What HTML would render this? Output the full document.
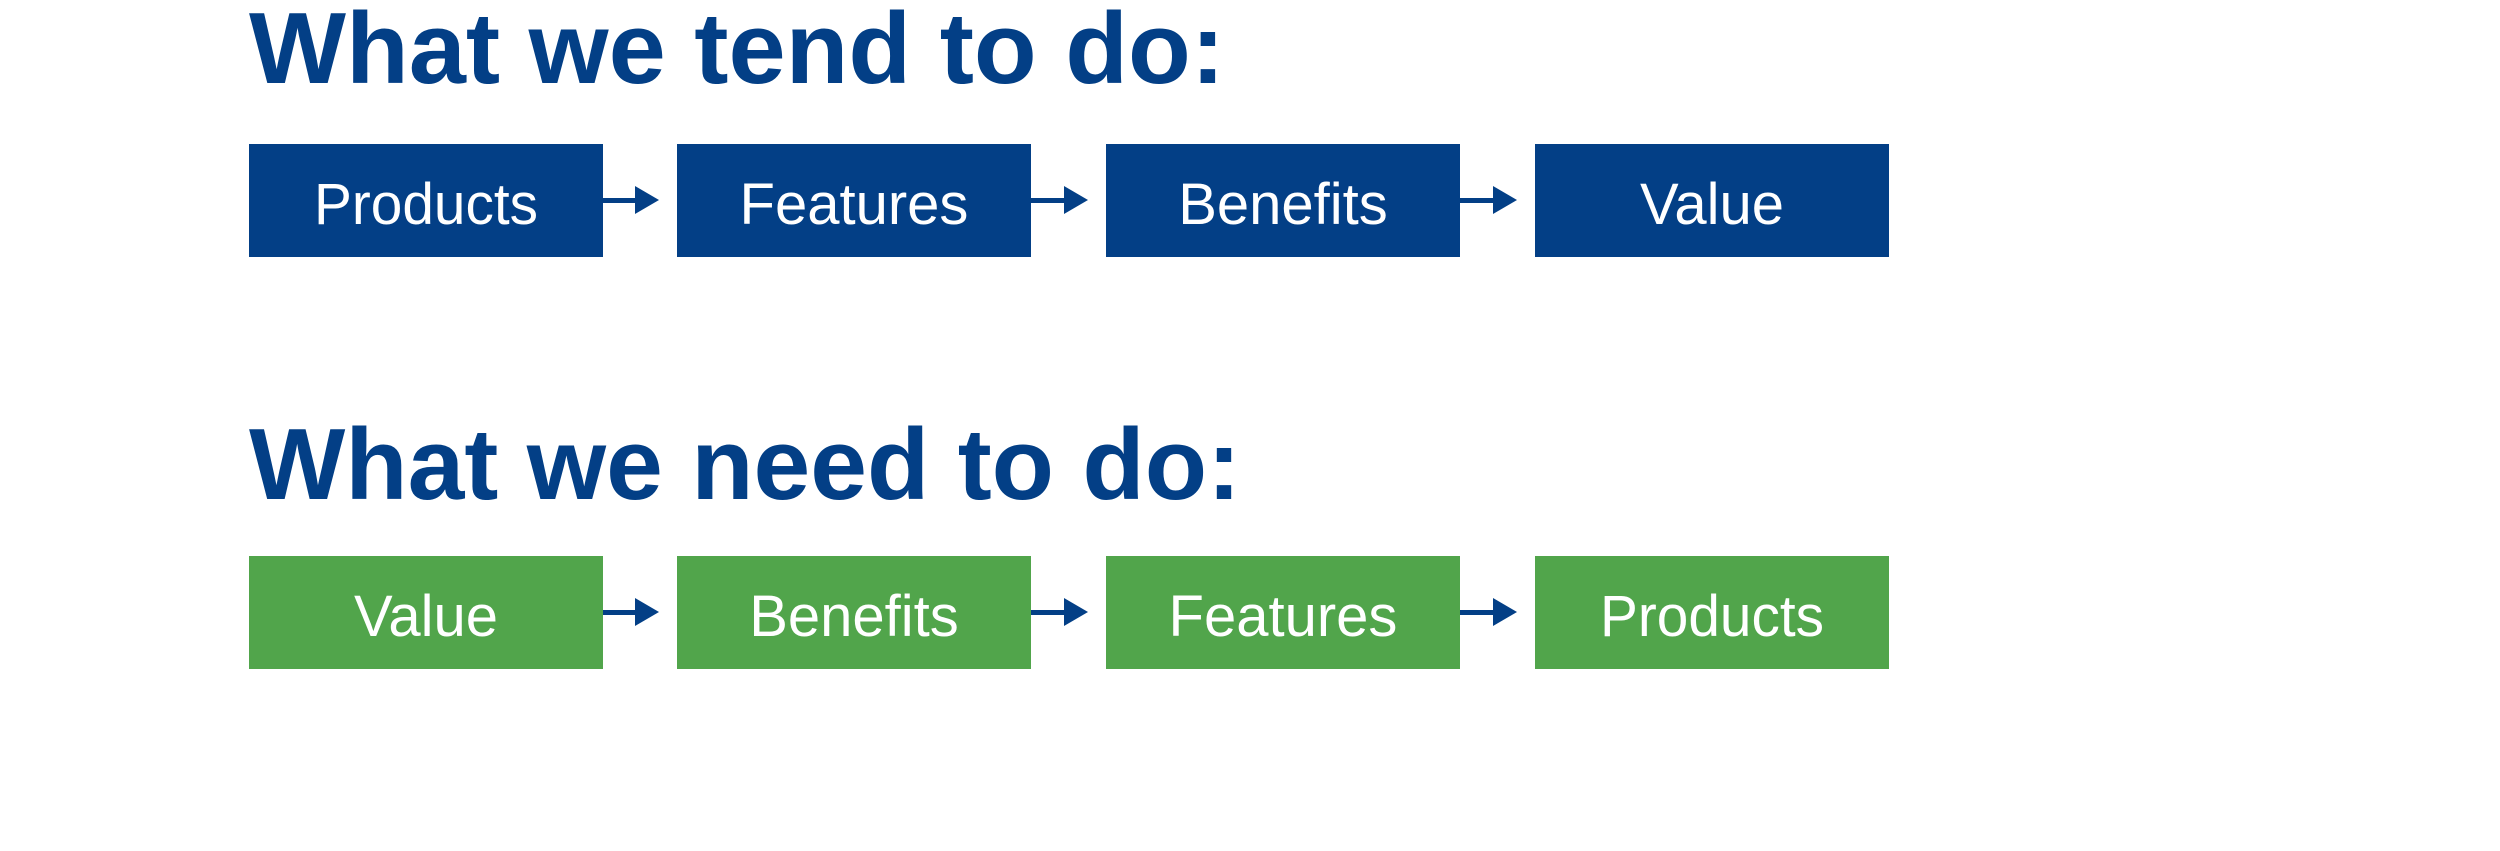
<!DOCTYPE html>
<html><head><meta charset="utf-8"><style>html,body{margin:0;padding:0;background:#fff}svg{display:block}</style></head>
<body>
<svg width="2500" height="851" viewBox="0 0 2500 851" xmlns="http://www.w3.org/2000/svg">
<g font-family="Liberation Sans, sans-serif">
<text x="249" y="83" font-size="101" font-weight="bold" fill="#033f86" textLength="976" lengthAdjust="spacingAndGlyphs">What we tend to do:</text>
<text x="249" y="499" font-size="101" font-weight="bold" fill="#033f86" textLength="992" lengthAdjust="spacingAndGlyphs">What we need to do:</text>

<g fill="#033f86">
<rect x="249" y="144" width="354" height="113"/>
<rect x="677" y="144" width="354" height="113"/>
<rect x="1106" y="144" width="354" height="113"/>
<rect x="1535" y="144" width="354" height="113"/>
</g>
<g fill="#51a54b">
<rect x="249" y="556" width="354" height="113"/>
<rect x="677" y="556" width="354" height="113"/>
<rect x="1106" y="556" width="354" height="113"/>
<rect x="1535" y="556" width="354" height="113"/>
</g>
<g fill="#033f86">
<rect x="603" y="198" width="34" height="5"/><polygon points="635,186 659,200 635,214"/>
<rect x="1031" y="198" width="35" height="5"/><polygon points="1064,186 1088,200 1064,214"/>
<rect x="1460" y="198" width="35" height="5"/><polygon points="1493,186 1517,200 1493,214"/>
<rect x="603" y="610" width="34" height="5"/><polygon points="635,598 659,612 635,626"/>
<rect x="1031" y="610" width="35" height="5"/><polygon points="1064,598 1088,612 1064,626"/>
<rect x="1460" y="610" width="35" height="5"/><polygon points="1493,598 1517,612 1493,626"/>
</g>
<g fill="#fff" font-size="58" text-anchor="middle">
<text x="426" y="224" textLength="224" lengthAdjust="spacingAndGlyphs">Products</text>
<text x="854" y="224">Features</text>
<text x="1283" y="224">Benefits</text>
<text x="1712" y="224">Value</text>
<text x="426" y="636">Value</text>
<text x="854" y="636">Benefits</text>
<text x="1283" y="636">Features</text>
<text x="1712" y="636" textLength="224" lengthAdjust="spacingAndGlyphs">Products</text>
</g>
</g>
</svg>
</body></html>
